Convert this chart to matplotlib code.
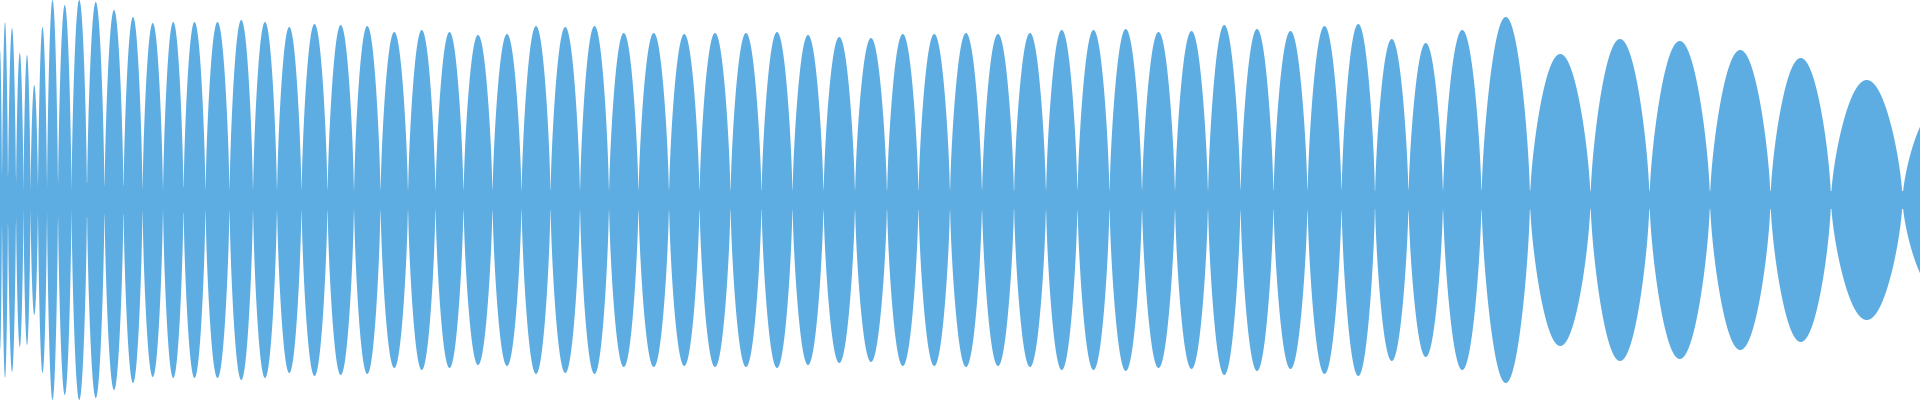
import numpy as np
import matplotlib
matplotlib.use("Agg")
import matplotlib.pyplot as plt

# lobe centre positions (sample index, 0..1920) and peak amplitudes (0..200)
centers = [0, 4, 12, 20, 27, 34, 42, 52, 64, 79, 95, 114, 133, 152, 174, 193, 218, 241,
           265, 289, 314, 341, 367, 394, 422, 449, 478, 507, 536, 565, 595, 623, 654,
           684, 715, 746, 777, 808, 839, 871, 903, 934, 966, 998, 1030, 1062, 1093,
           1126, 1158, 1192, 1224, 1257, 1290, 1325, 1358, 1392, 1425, 1461, 1502,
           1558, 1623, 1676, 1744, 1797, 1865, 1940]
peaks = [150, 178, 172, 147, 145, 115, 173, 200, 195, 200, 198, 190, 183, 177, 178,
         178, 178, 180, 178, 173, 176, 175, 174, 168, 170, 168, 165, 166, 174, 173,
         174, 167, 167, 166, 167, 167, 168, 165, 163, 162, 166, 166, 167, 166, 167,
         170, 170, 171, 168, 169, 175, 171, 169, 174, 176, 161, 157, 170, 183, 146,
         161, 159, 150, 142, 120, 95]
floor_level = 9

c = np.array(centers, float)
a = np.array(peaks, float)
bounds = np.concatenate([[c[0] - 2], (c[:-1] + c[1:]) / 2, [c[-1] + (c[-1] - c[-2]) / 2]])

x = np.linspace(0, 1920, 8000)
env = np.zeros_like(x)
for i in range(len(c)):
    lo, hi = bounds[i], bounds[i + 1]
    m = (x >= lo) & (x <= hi)
    t = (x[m] - lo) / (hi - lo)
    env[m] = np.maximum(env[m], a[i] * np.sin(np.pi * t) ** 0.65)
env = np.maximum(env, floor_level)

fig = plt.figure(figsize=(19.2, 4), dpi=100)
ax = fig.add_axes([0, 0, 1, 1])
ax.fill_between(x, -env, env, color="#5DADE2", linewidth=0)
ax.set_xlim(0, 1920)
ax.set_ylim(-200, 200)
ax.axis("off")
fig.savefig("out.png", dpi=100, facecolor="white")
